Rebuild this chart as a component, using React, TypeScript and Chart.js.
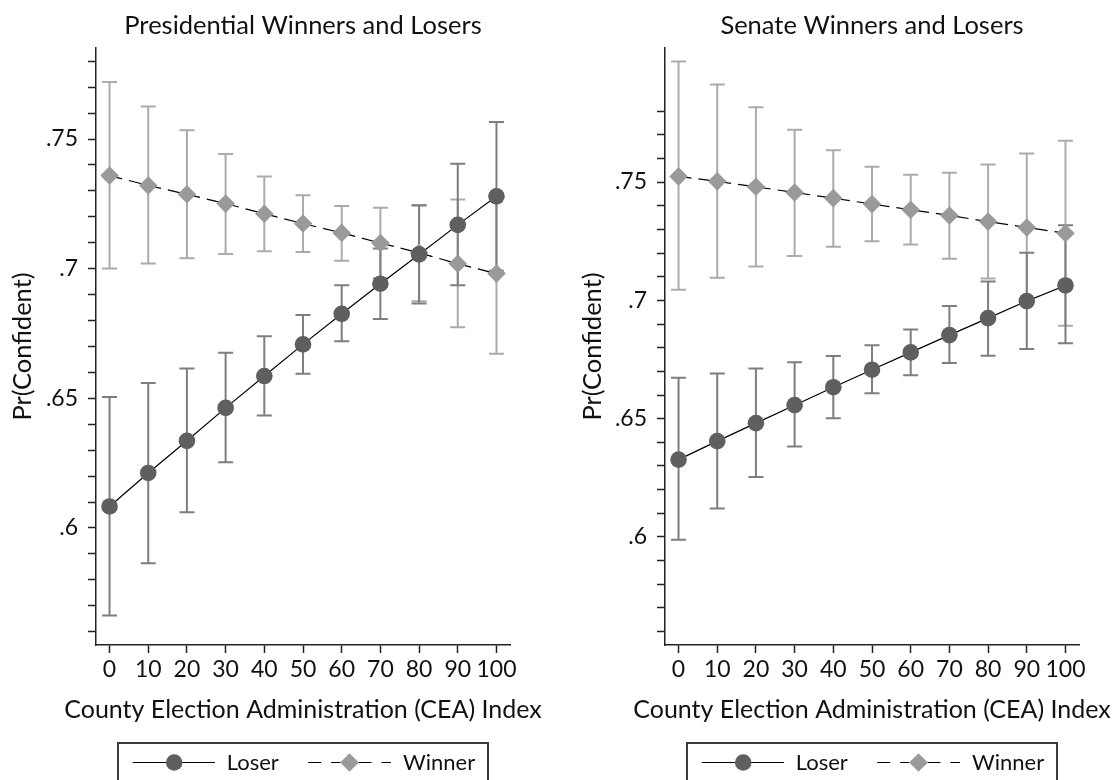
import React, { useEffect, useRef } from 'react';
import { Chart, registerables } from 'chart.js';

Chart.register(...registerables);

// ---------------- data ----------------
const CEA_INDEX = [0, 10, 20, 30, 40, 50, 60, 70, 80, 90, 100];
const X_TICKS = [0, 10, 20, 30, 40, 50, 60, 70, 80, 90, 100];
const Y_TICKS = [0.56, 0.57, 0.58, 0.59, 0.6, 0.61, 0.62, 0.63, 0.64, 0.65, 0.66, 0.67, 0.68, 0.69, 0.7, 0.71, 0.72, 0.73, 0.74, 0.75, 0.76, 0.77, 0.78];
const Y_LABELED = [0.6, 0.65, 0.7, 0.75];

const PRES_LOSER = [0.6083, 0.6212, 0.6336, 0.6463, 0.6586, 0.6708, 0.6826, 0.6942, 0.7055, 0.7169, 0.7279];
const PRES_LOSER_LO = [0.5662, 0.5864, 0.6061, 0.6253, 0.6434, 0.6595, 0.672, 0.6806, 0.6866, 0.6936, 0.6992];
const PRES_LOSER_HI = [0.6505, 0.6559, 0.6615, 0.6676, 0.6739, 0.6821, 0.6936, 0.7078, 0.7245, 0.7405, 0.7566];
const PRES_WINNER = [0.7359, 0.7321, 0.7287, 0.7251, 0.7212, 0.7174, 0.7138, 0.7099, 0.7061, 0.7019, 0.6981];
const PRES_WINNER_LO = [0.7001, 0.702, 0.704, 0.7057, 0.7067, 0.7064, 0.7031, 0.6963, 0.6874, 0.6774, 0.6672];
const PRES_WINNER_HI = [0.772, 0.7626, 0.7534, 0.7442, 0.7356, 0.7283, 0.7242, 0.7235, 0.7244, 0.7267, 0.729];

const SEN_LOSER = [0.6327, 0.6405, 0.6481, 0.6557, 0.6633, 0.6707, 0.678, 0.6853, 0.6925, 0.6997, 0.7063];
const SEN_LOSER_LO = [0.5988, 0.612, 0.6253, 0.6382, 0.6502, 0.6607, 0.6684, 0.6735, 0.6766, 0.6794, 0.6819];
const SEN_LOSER_HI = [0.6673, 0.6691, 0.6712, 0.6738, 0.6765, 0.681, 0.6877, 0.6976, 0.708, 0.7201, 0.7317];
const SEN_WINNER = [0.7524, 0.7503, 0.748, 0.7456, 0.7432, 0.7407, 0.7383, 0.7359, 0.7333, 0.7308, 0.7284];
const SEN_WINNER_LO = [0.7045, 0.7096, 0.7143, 0.7187, 0.7227, 0.725, 0.7236, 0.7176, 0.7092, 0.6995, 0.6893];
const SEN_WINNER_HI = [0.801, 0.7912, 0.7816, 0.7721, 0.7634, 0.7565, 0.7531, 0.7539, 0.7574, 0.7621, 0.7675];

const SERIES_NAMES = ['Loser', 'Winner'];
const X_TITLE = 'County Election Administration (CEA) Index';
const Y_TITLE = 'Pr(Confident)';

// ---------------- styles ----------------
const FONT = 'Lato';
const LOSER_MARK = '#5f5f5f';
const WINNER_MARK = '#9a9a9a';
const LOSER_BAR = '#7e7e7e';
const WINNER_BAR = '#ababab';
const AXIS = '#222222';

interface PanelProps {
  left: number;
  title: string;
  loser: number[];
  loserLo: number[];
  loserHi: number[];
  winner: number[];
  winnerLo: number[];
  winnerHi: number[];
  yMin: number;
  yMax: number;
  yScaleWidth: number;
  padRight: number;
  yTitlePad: number;
}

const W = 559;
const H = 780;

function fmtTick(v: number): string {
  const r = Math.round(v * 100) / 100;
  return String(r).replace(/^0/, '');
}

function Panel(p: PanelProps) {
  const ref = useRef<HTMLCanvasElement>(null);
  useEffect(() => {
    if (!ref.current) return;

    const errorBars = {
      id: 'errorBars',
      beforeDatasetsDraw(chart: any) {
        const ctx = chart.ctx;
        const xs = chart.scales.x;
        const ys = chart.scales.y;
        const groups = [
          { lo: p.winnerLo, hi: p.winnerHi, color: WINNER_BAR },
          { lo: p.loserLo, hi: p.loserHi, color: LOSER_BAR },
        ];
        ctx.save();
        ctx.lineWidth = 2;
        ctx.lineCap = 'butt';
        for (const g of groups) {
          ctx.strokeStyle = g.color;
          CEA_INDEX.forEach((xv, i) => {
            const x = xs.getPixelForValue(xv);
            const y1 = ys.getPixelForValue(g.lo[i]);
            const y2 = ys.getPixelForValue(g.hi[i]);
            ctx.beginPath();
            ctx.moveTo(x, y1);
            ctx.lineTo(x, y2);
            ctx.moveTo(x - 7.5, y1);
            ctx.lineTo(x + 7.5, y1);
            ctx.moveTo(x - 7.5, y2);
            ctx.lineTo(x + 7.5, y2);
            ctx.stroke();
          });
        }
        ctx.restore();
      },
    };

    const extras = {
      id: 'extras',
      afterDraw(chart: any) {
        const ctx = chart.ctx;
        const ca = chart.chartArea;
        const cx = (ca.left + ca.right) / 2;
        ctx.save();
        // x-axis title (drawn without width limit)
        ctx.fillStyle = '#111';
        ctx.font = `25px ${FONT}`;
        ctx.textAlign = 'center';
        ctx.textBaseline = 'middle';
        ctx.fillText(X_TITLE, cx, 710);

        // legend box
        const bl = cx - 185;
        const top = 743;
        const cy = 762.5;
        ctx.strokeStyle = '#3a3a3a';
        ctx.lineWidth = 2;
        ctx.strokeRect(bl, top, 370, 60);
        // loser sample
        ctx.strokeStyle = '#000';
        ctx.lineWidth = 1.2;
        ctx.setLineDash([]);
        ctx.beginPath();
        ctx.moveTo(bl + 14.7, cy);
        ctx.lineTo(bl + 97, cy);
        ctx.stroke();
        ctx.fillStyle = LOSER_MARK;
        ctx.beginPath();
        ctx.arc(bl + 56.2, cy, 8.3, 0, Math.PI * 2);
        ctx.fill();
        // winner sample
        const dx = bl + 231.5;
        ctx.setLineDash([13, 10]);
        ctx.beginPath();
        ctx.moveTo(bl + 190.2, cy);
        ctx.lineTo(dx - 9, cy);
        ctx.stroke();
        ctx.beginPath();
        ctx.moveTo(dx + 9, cy);
        ctx.lineTo(bl + 273, cy);
        ctx.stroke();
        ctx.setLineDash([]);
        ctx.fillStyle = WINNER_MARK;
        ctx.beginPath();
        ctx.moveTo(dx, cy - 9.3);
        ctx.lineTo(dx + 9.3, cy);
        ctx.lineTo(dx, cy + 9.3);
        ctx.lineTo(dx - 9.3, cy);
        ctx.closePath();
        ctx.fill();
        // texts
        ctx.fillStyle = '#111';
        ctx.font = `22px ${FONT}`;
        ctx.textBaseline = 'middle';
        ctx.textAlign = 'left';
        ctx.fillText(SERIES_NAMES[0], bl + 108.7, cy);
        ctx.fillText(SERIES_NAMES[1], bl + 285, cy);
        ctx.restore();
      },
    };

    const chart = new Chart(ref.current, {
      type: 'scatter',
      data: {
        datasets: [
          {
            label: SERIES_NAMES[0],
            data: CEA_INDEX.map((x, i) => ({ x, y: p.loser[i] })),
            showLine: true,
            borderColor: '#000',
            borderWidth: 1.2,
            pointStyle: 'circle',
            pointRadius: 8.3,
            pointBackgroundColor: LOSER_MARK,
            pointBorderWidth: 0,
            pointBorderColor: LOSER_MARK,
          },
          {
            label: SERIES_NAMES[1],
            data: CEA_INDEX.map((x, i) => ({ x, y: p.winner[i] })),
            showLine: true,
            borderColor: '#000',
            borderWidth: 1.2,
            borderDash: [13, 7],
            pointStyle: 'rectRot',
            pointRadius: 9.3,
            pointBackgroundColor: WINNER_MARK,
            pointBorderWidth: 0,
            pointBorderColor: WINNER_MARK,
          },
        ],
      },
      options: {
        animation: false,
        responsive: false,
        devicePixelRatio: 1,
        events: [],
        layout: { padding: { left: 0, right: p.padRight, top: 0, bottom: 45 } },
        plugins: {
          legend: { display: false },
          tooltip: { enabled: false },
          title: {
            display: true,
            text: p.title,
            fullSize: false,
            color: '#111',
            font: { family: FONT, size: 25.5, weight: 'normal', lineHeight: 1 },
            padding: { top: 13.5, bottom: 9 },
          },
        },
        scales: {
          x: {
            type: 'linear',
            min: -3.5,
            max: 103.5,
            afterBuildTicks: (s: any) => {
              s.ticks = X_TICKS.map((v) => ({ value: v }));
            },
            afterFit: (s: any) => {
              s.height = 90;
            },
            ticks: {
              autoSkip: false,
              maxRotation: 0,
              color: '#111',
              padding: 5,
              font: { family: FONT, size: 23, lineHeight: 1 },
              callback: (v: any) => String(v),
            },
            grid: {
              drawOnChartArea: false,
              drawTicks: true,
              tickLength: 8,
              tickColor: AXIS,
              tickWidth: 1.5,
            },
            border: { display: true, color: AXIS, width: 1.5 },
            title: { display: false },
          },
          y: {
            type: 'linear',
            min: p.yMin,
            max: p.yMax,
            afterBuildTicks: (s: any) => {
              s.ticks = Y_TICKS.map((v) => ({ value: v }));
            },
            afterFit: (s: any) => {
              s.width = p.yScaleWidth;
            },
            ticks: {
              autoSkip: false,
              color: '#111',
              padding: 10,
              font: { family: FONT, size: 23, lineHeight: 1 },
              callback: (v: any) => {
                const n = Number(v);
                return Y_LABELED.some((t) => Math.abs(t - n) < 1e-6) ? fmtTick(n) : '';
              },
            },
            grid: {
              drawOnChartArea: false,
              drawTicks: true,
              tickLength: 8,
              tickColor: AXIS,
              tickWidth: 1.5,
            },
            border: { display: true, color: AXIS, width: 1.5 },
            title: {
              display: true,
              text: Y_TITLE,
              color: '#111',
              font: { family: FONT, size: 25.5, lineHeight: 1 },
              padding: { top: p.yTitlePad, bottom: 0 },
            },
          },
        },
      },
      plugins: [errorBars, extras],
    } as any);
    return () => chart.destroy();
  }, []);
  return (
    <canvas
      ref={ref}
      width={W}
      height={H}
      style={{ position: 'absolute', left: p.left, top: 0, width: W, height: H, display: 'block' }}
    />
  );
}

export default function App() {
  return (
    <div style={{ position: 'absolute', left: 0, top: 0, width: 1118, height: 780, background: '#fff', overflow: 'hidden' }}>
      <Panel
        left={0}
        title="Presidential Winners and Losers"
        loser={PRES_LOSER}
        loserLo={PRES_LOSER_LO}
        loserHi={PRES_LOSER_HI}
        winner={PRES_WINNER}
        winnerLo={PRES_WINNER_LO}
        winnerHi={PRES_WINNER_HI}
        yMin={0.55485}
        yMax={0.78512}
        yScaleWidth={96}
        padRight={49}
        yTitlePad={10.2}
      />
      <Panel
        left={559}
        title="Senate Winners and Losers"
        loser={SEN_LOSER}
        loserLo={SEN_LOSER_LO}
        loserHi={SEN_LOSER_HI}
        winner={SEN_WINNER}
        winnerLo={SEN_WINNER_LO}
        winnerHi={SEN_WINNER_HI}
        yMin={0.55433}
        yMax={0.80667}
        yScaleWidth={106}
        padRight={39}
        yTitlePad={21}
      />
    </div>
  );
}
